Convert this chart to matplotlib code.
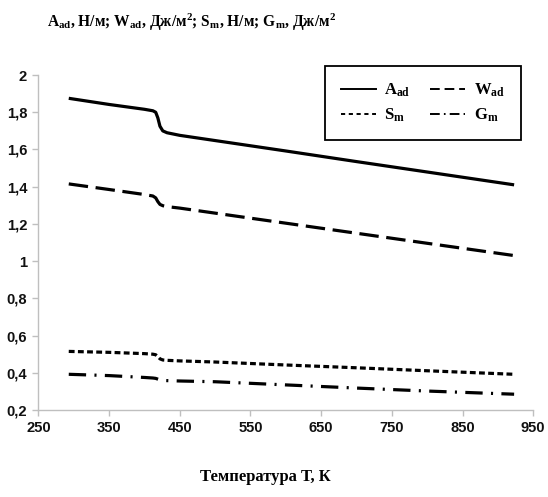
import matplotlib
matplotlib.use("Agg")
import matplotlib.pyplot as plt
from matplotlib.lines import Line2D
from matplotlib.ticker import FuncFormatter

plt.rcParams['mathtext.fontset'] = 'custom'
plt.rcParams['mathtext.rm'] = 'Liberation Serif:bold'
plt.rcParams['mathtext.it'] = 'Liberation Serif:bold'
plt.rcParams['mathtext.bf'] = 'Liberation Serif:bold'
plt.rcParams['lines.scale_dashes'] = False

# Temperature, K
temperature = [293, 350, 400, 412, 416, 419, 422, 426, 432, 450, 500, 600, 700, 800, 923]
# Work of adhesion / surface properties
a_ad = [1.875, 1.842, 1.816, 1.808, 1.800, 1.770, 1.725, 1.700, 1.690, 1.676, 1.648, 1.592, 1.535, 1.479, 1.410]
w_ad = [1.415, 1.385, 1.358, 1.350, 1.340, 1.320, 1.305, 1.298, 1.293, 1.285, 1.258, 1.204, 1.150, 1.096, 1.030]
s_m = [0.515, 0.510, 0.503, 0.500, 0.497, 0.487, 0.475, 0.469, 0.467, 0.464, 0.458, 0.442, 0.427, 0.411, 0.392]
g_m = [0.392, 0.385, 0.375, 0.372, 0.370, 0.366, 0.362, 0.359, 0.358, 0.356, 0.352, 0.335, 0.318, 0.302, 0.285]

x_ticks = [250, 350, 450, 550, 650, 750, 850, 950]
y_ticks = [0.2, 0.4, 0.6, 0.8, 1.0, 1.2, 1.4, 1.6, 1.8, 2.0]

series_labels = [r'A$_{\mathrm{ad}}$', r'W$_{\mathrm{ad}}$', r'S$_{\mathrm{m}}$', r'G$_{\mathrm{m}}$']

fig = plt.figure(figsize=(5.48, 4.97), dpi=100)
ax = fig.add_axes([0.070, 0.175, 0.903, 0.674])

lw = 2.3
ax.plot(temperature, a_ad, color='black', lw=lw, solid_capstyle='butt')
ax.plot(temperature, w_ad, color='black', lw=lw, dashes=(14, 5.5), dash_capstyle='butt')
ax.plot(temperature, s_m, color='black', lw=lw, dashes=(4.2, 2.4), dash_capstyle='butt')
ax.plot(temperature, g_m, color='black', lw=lw, dashes=(12.5, 6, 1.5, 6), dash_capstyle='butt')

ax.set_xlim(250, 950)
ax.set_ylim(0.2, 2.0)
ax.set_xticks(x_ticks)
ax.set_yticks(y_ticks)


def comma_fmt(v, pos):
    s = f"{v:.1f}".rstrip('0').rstrip('.')
    return s.replace('.', ',')


ax.yaxis.set_major_formatter(FuncFormatter(comma_fmt))
ax.xaxis.set_major_formatter(FuncFormatter(lambda v, p: f"{int(v)}"))

for side in ('top', 'right'):
    ax.spines[side].set_visible(False)
for side in ('left', 'bottom'):
    ax.spines[side].set_color('#bfbfbf')
    ax.spines[side].set_linewidth(1.0)

ax.tick_params(axis='both', direction='out', length=4, width=1.0, color='#bfbfbf',
               labelcolor='#111111', pad=4)
for lab in ax.get_xticklabels() + ax.get_yticklabels():
    lab.set_fontfamily(['Liberation Sans Narrow', 'Liberation Sans', 'DejaVu Sans'])
    lab.set_fontweight('bold')
    lab.set_fontsize(10.6)

serif = ['Liberation Serif', 'DejaVu Serif']
fig.text(0.086, 0.955,
         r'A$_{\mathrm{ad}}$, Н/м; W$_{\mathrm{ad}}$, Дж/м$^{\mathrm{2}}$; '
         r'S$_{\mathrm{m}}$, Н/м; G$_{\mathrm{m}}$, Дж/м$^{\mathrm{2}}$',
         family=serif, weight='bold', size=11.2, va='center', ha='left')

fig.text(0.484, 0.040, 'Температура Т, К', family=serif, weight='bold',
         size=12, ha='center', va='center')

# Legend with thinner proxy lines
hl = 1.4
h_a = Line2D([], [], color='black', lw=hl)
h_w = Line2D([], [], color='black', lw=hl, dashes=(7, 3.5))
h_s = Line2D([], [], color='black', lw=hl, dashes=(3, 2.6))
h_g = Line2D([], [], color='black', lw=hl, dashes=(7, 3, 1.2, 3))
leg = fig.legend([h_a, h_s, h_w, h_g],
                 [series_labels[0], series_labels[2], series_labels[1], series_labels[3]],
                 ncol=2, loc='upper left', bbox_to_anchor=(0.593, 0.867),
                 frameon=True, fancybox=False, edgecolor='black', framealpha=1,
                 prop=dict(family=serif, weight='bold', size=12),
                 handlelength=2.1, handletextpad=0.5, columnspacing=1.2,
                 labelspacing=0.45, borderpad=0.95, borderaxespad=0)
leg.get_frame().set_linewidth(1.3)

fig.savefig('out.png', dpi=100)
